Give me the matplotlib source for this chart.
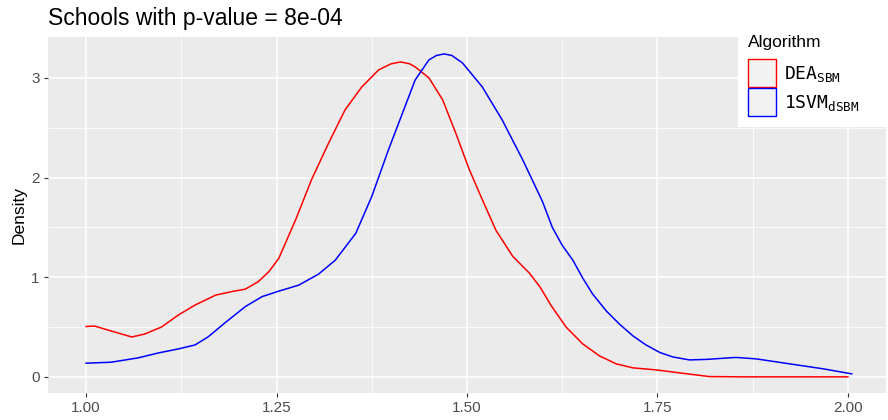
import matplotlib
matplotlib.use('Agg')
import matplotlib.pyplot as plt
from matplotlib.patches import Rectangle
from matplotlib.ticker import MultipleLocator

plt.rcParams['font.family'] = ['Liberation Sans', 'DejaVu Sans']
plt.rcParams['mathtext.fontset'] = 'custom'
plt.rcParams['mathtext.rm'] = 'DejaVu Sans Mono'

# density curves
dea_x = [1.000, 1.011, 1.033, 1.060, 1.077, 1.099, 1.121, 1.143, 1.170, 1.191,
         1.209, 1.226, 1.240, 1.253, 1.275, 1.296, 1.318, 1.340, 1.362, 1.384,
         1.400, 1.413, 1.425, 1.432, 1.450, 1.468, 1.485, 1.503, 1.520, 1.538,
         1.560, 1.582, 1.596, 1.610, 1.630, 1.652, 1.674, 1.696, 1.718, 1.748,
         1.779, 1.818, 1.860, 2.000]
dea_y = [0.505, 0.510, 0.460, 0.400, 0.430, 0.500, 0.620, 0.720, 0.820, 0.855,
         0.880, 0.955, 1.056, 1.190, 1.575, 1.980, 2.340, 2.680, 2.910, 3.080,
         3.140, 3.160, 3.140, 3.110, 3.000, 2.780, 2.450, 2.080, 1.780, 1.470,
         1.210, 1.040, 0.900, 0.720, 0.500, 0.330, 0.210, 0.130, 0.090, 0.070,
         0.040, 0.003, 0.000, 0.000]

svm_x = [1.000, 1.033, 1.068, 1.095, 1.121, 1.143, 1.160, 1.182, 1.209, 1.231,
         1.253, 1.279, 1.305, 1.327, 1.354, 1.375, 1.397, 1.415, 1.432, 1.450,
         1.460, 1.470, 1.480, 1.494, 1.520, 1.546, 1.573, 1.599, 1.612, 1.625,
         1.639, 1.652, 1.665, 1.683, 1.700, 1.718, 1.735, 1.753, 1.770, 1.792,
         1.814, 1.853, 1.880, 1.924, 1.968, 2.005]
svm_y = [0.137, 0.147, 0.190, 0.240, 0.280, 0.320, 0.400, 0.540, 0.705, 0.805,
         0.860, 0.920, 1.030, 1.170, 1.440, 1.810, 2.280, 2.640, 2.980, 3.180,
         3.225, 3.240, 3.225, 3.150, 2.910, 2.580, 2.180, 1.760, 1.500, 1.320,
         1.170, 0.990, 0.830, 0.660, 0.530, 0.410, 0.320, 0.245, 0.200, 0.170,
         0.175, 0.195, 0.180, 0.130, 0.080, 0.030]

labels = [r'DEA$_{\mathrm{SBM}}$', r'1SVM$_{\mathrm{dSBM}}$']
colors = ['red', 'blue']

W, H = 888, 420


def fx(px):
    return px / W


def fy(py):
    return 1 - py / H


fig = plt.figure(figsize=(8.88, 4.2), dpi=100)
ax = fig.add_axes([48/888, 27/420, 838/888, 356/420])
ax.set_facecolor('#EBEBEB')

ax.plot(dea_x, dea_y, color=colors[0], lw=1.1)
ax.plot(svm_x, svm_y, color=colors[1], lw=1.1)

ax.set_xlim(0.95, 2.05)
ax.set_ylim(-0.162, 3.41)
ax.xaxis.set_minor_locator(MultipleLocator(0.125))
ax.yaxis.set_major_locator(MultipleLocator(1))
ax.yaxis.set_minor_locator(MultipleLocator(0.5))
ax.set_xticks([1.0, 1.25, 1.5, 1.75, 2.0])
ax.set_xticklabels(['1.00', '1.25', '1.50', '1.75', '2.00'])
ax.grid(which='major', color='white', lw=1.1)
ax.grid(which='minor', color='white', lw=0.55)
ax.set_axisbelow(True)
for s in ax.spines.values():
    s.set_visible(False)
ax.tick_params(which='major', length=3, width=0.8, color='#333333',
               labelcolor='#4D4D4D', labelsize=11, pad=3)
ax.tick_params(which='minor', length=0)

ax.set_ylabel('Density', fontsize=12.5, labelpad=3)
fig.text(48/888, 1 - 18/420, 'Schools with p-value = 8e-04', fontsize=16.5,
         va='center', ha='left')

# legend box, drawn by hand to get ggplot's key sizes
fig.add_artist(Rectangle((fx(738), fy(127)), fx(888) - fx(738), fy(25) - fy(127),
                         transform=fig.transFigure, facecolor='white',
                         edgecolor='none', zorder=5))
fig.text(fx(748), fy(42), 'Algorithm', fontsize=12.5, va='center', ha='left',
         zorder=6)
for i, (lab, c) in enumerate(zip(labels, colors)):
    top = 59 + i * 29
    fig.add_artist(Rectangle((fx(748), fy(top + 28)), fx(28), fy(0) - fy(28),
                             transform=fig.transFigure, facecolor='#F2F2F2',
                             edgecolor=c, lw=1.0, zorder=6))
    fig.text(fx(784), fy(top + 15), lab, fontsize=13, va='center', ha='left',
             family='DejaVu Sans Mono', zorder=6)

fig.savefig('out.png', dpi=100)
